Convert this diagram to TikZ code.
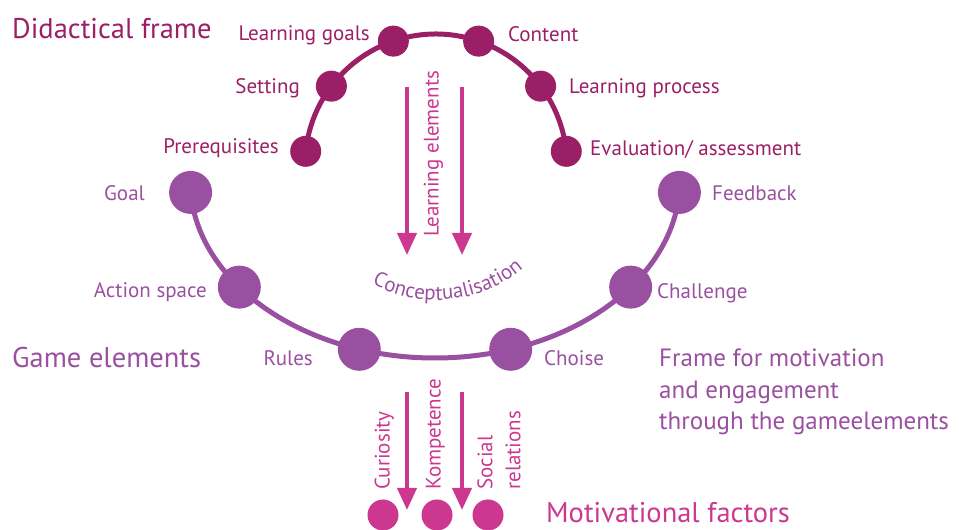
\documentclass[tikz,border=0pt]{standalone}
\usepackage{fontspec}
\setmainfont{PT Sans}
\usetikzlibrary{arrows.meta,decorations.text,backgrounds,calc}
\definecolor{didc}{HTML}{9B1F66}
\definecolor{gamec}{HTML}{9A50A0}
\definecolor{pinkc}{HTML}{CC3790}
\begin{document}
\begin{tikzpicture}[x=1pt,y=1pt,
  lbl/.style={inner sep=0pt, text height=0.7em, text depth=0pt, font=\fontsize{21}{25}\selectfont},
  big/.style={inner sep=0pt, text height=0.7em, text depth=0pt, font=\fontsize{28.5}{33}\selectfont},
  dlbl/.style={lbl, text=didc},
  glbl/.style={lbl, text=gamec},
  rlbl/.style={lbl, text=pinkc, rotate=90},
  dnode/.style={circle, fill=didc, minimum size=31pt, inner sep=0pt},
  gnode/.style={circle, fill=gamec, minimum size=43pt, inner sep=0pt},
  mnode/.style={circle, fill=pinkc, minimum size=31pt, inner sep=0pt},
  dline/.style={draw=didc, line width=5pt},
  gline/.style={draw=gamec, line width=5pt},
  arr/.style={draw=pinkc, line width=4pt, -{Triangle[width=19pt,length=22pt]}}]
\useasboundingbox (0,0) rectangle (959,530);

% didactical frame
\coordinate (tc) at (436,365);
\foreach \n/\a in {pre/174, set/143, lg/109, con/71, lp/37, ev/6}
  \node[dnode] (\n) at ($(tc)+(\a:131)$) {};
\begin{scope}[on background layer]
  \draw[dline] (pre.center) arc[start angle=174, end angle=6, radius=131];
\end{scope}
\node[big, text=didc, anchor=west] (didt) at (12,495) {Didactical frame};
\node[dlbl, anchor=east] (lgt) at (370,493) {Learning goals};
\node[dlbl, anchor=west] (cont) at (508,492) {Content};
\node[dlbl, anchor=east] (sett) at (300,440) {Setting};
\node[dlbl, anchor=west] (lpt) at (569,440) {Learning process};
\node[dlbl, anchor=east] (pret) at (279,380) {Prerequisites};
\node[dlbl, anchor=west] (evt) at (590,378) {Evaluation/ assessment};

% learning elements arrows
\coordinate (la1) at (407,443); \coordinate (lb1) at (407,275);
\coordinate (la2) at (462,443); \coordinate (lb2) at (462,275);
\draw[arr] (la1) -- (lb1);
\draw[arr] (la2) -- (lb2);
\node[rlbl, anchor=center] (lelt) at (435,376) {Learning elements};

% conceptualisation
\path[decorate, decoration={text along path, text align=center,
  text={|\fontsize{21}{25}\selectfont\color{gamec}|Conceptualisation}}]
  ($(tc)+(224:135)$) arc[start angle=224, end angle=328, radius=135];

% game elements
\coordinate (gc) at (435,350);
\foreach \n/\a in {goal/184, as/217, rul/252, cho/288, cha/323, fb/356}
  \node[gnode] (\n) at ($(gc)+(\a:245 and 178)$) {};
\begin{scope}[on background layer]
  \draw[gline] (goal.center) arc[start angle=184, end angle=356, x radius=245, y radius=178];
\end{scope}
\node[glbl, anchor=east] (goalt) at (145,333) {Goal};
\node[glbl, anchor=west] (fbt) at (712,333) {Feedback};
\node[glbl, anchor=east] (ast) at (207,236) {Action space};
\node[glbl, anchor=west] (chat) at (657,235) {Challenge};
\node[glbl, anchor=east] (rult) at (313,168) {Rules};
\node[glbl, anchor=west] (chot) at (544,168) {Choise};
\node[big, text=gamec, anchor=west] (gamet) at (12,166) {Game elements};
\node[inner sep=0pt, text=gamec, align=left, anchor=west, font=\fontsize{25}{31.5}\selectfont] (framet) at (659,138)
  {Frame for motivation\\and engagement\\through the gameelements};

% motivational factors
\coordinate (ma1) at (407,138); \coordinate (mb1) at (407,20);
\coordinate (ma2) at (462,138); \coordinate (mb2) at (462,20);
\draw[arr] (ma1) -- (mb1);
\draw[arr] (ma2) -- (mb2);
\node[mnode] (m1) at (383,15) {};
\node[mnode] (m2) at (437,15) {};
\node[mnode] (m3) at (488,15) {};
\node[rlbl, anchor=west] (curt) at (386,40) {Curiosity};
\node[rlbl, anchor=west] (kompt) at (437,40) {Kompetence};
\node[inner sep=0pt, text=pinkc, rotate=90, align=left, anchor=west, font=\fontsize{21}{28}\selectfont] (soct) at (499,40) {Social\\relations};
\node[big, text=pinkc, anchor=west] (motl) at (546,11) {Motivational factors};
\end{tikzpicture}
\end{document}
